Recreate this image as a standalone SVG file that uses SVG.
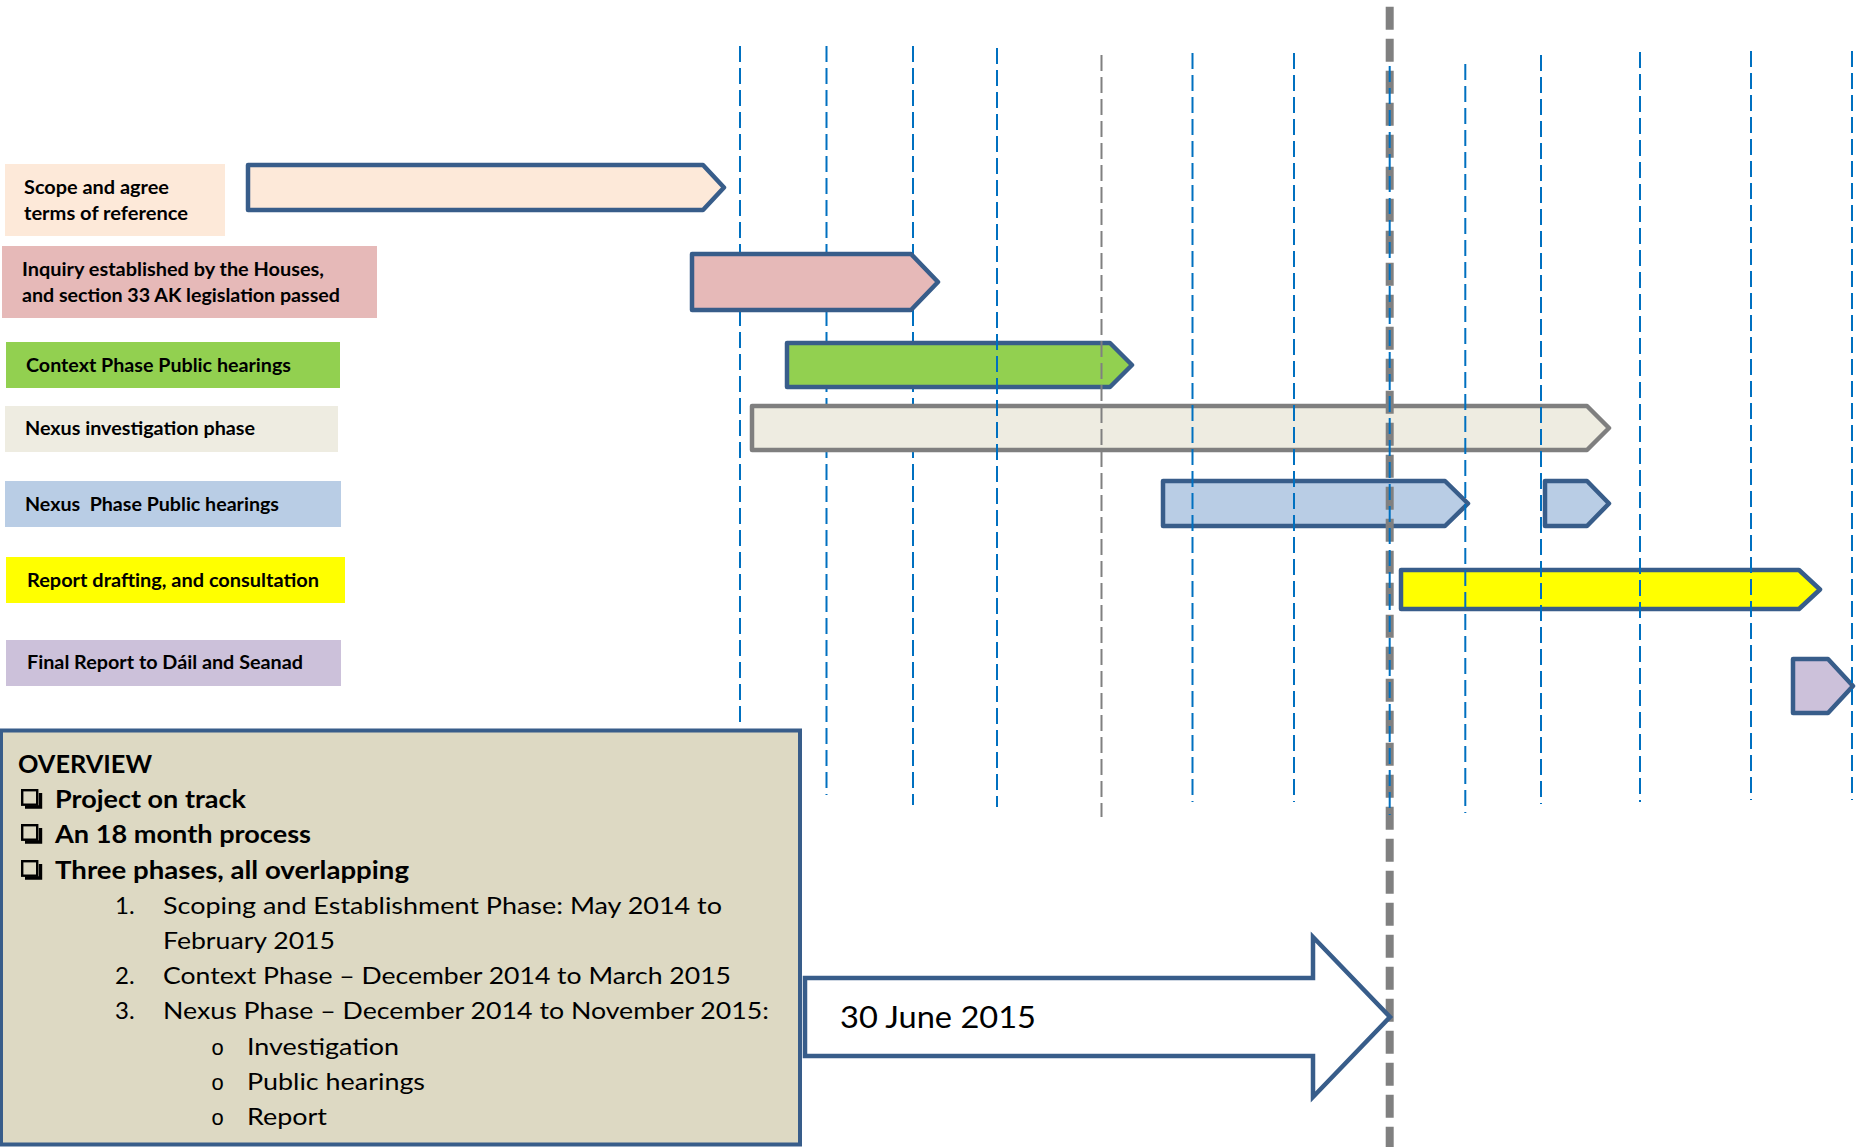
<svg xmlns="http://www.w3.org/2000/svg" width="1856" height="1147" viewBox="0 0 1856 1147">
<style>
.lbl{font-family:Lato,"Open Sans","Liberation Sans",sans-serif;font-weight:bold;font-size:19.5px;fill:#000}
.ov{font-family:Lato,"Open Sans","Liberation Sans",sans-serif;font-size:24px;fill:#000}
.ovb{font-family:Lato,"Open Sans","Liberation Sans",sans-serif;font-size:24px;font-weight:bold;fill:#000}
.mono{font-family:"Liberation Mono",monospace;font-size:22px;fill:#000}
.bar{stroke:#385D8A;stroke-width:4.5;stroke-linejoin:round}
.grid{stroke:#0070C0;stroke-width:2;stroke-dasharray:16 6;fill:none}
.gridg{stroke:#808080;stroke-width:2;stroke-dasharray:16 6;fill:none}
.chk{fill:none;stroke:#000;stroke-width:2.4}
.shd{fill:none;stroke:#000;stroke-width:3.4}
</style>
<rect width="1856" height="1147" fill="#fff"/>

<g id="label-scope"><rect x="5" y="164" width="220" height="72" fill="#FDE9D9"/>
<text class="lbl" x="24" y="194" textLength="145" lengthAdjust="spacingAndGlyphs">Scope and agree</text>
<text class="lbl" x="24" y="220" textLength="164" lengthAdjust="spacingAndGlyphs">terms of reference</text></g>
<g id="label-inquiry"><rect x="2" y="246" width="375" height="72" fill="#E6B9B8"/>
<text class="lbl" x="22" y="276" textLength="302" lengthAdjust="spacingAndGlyphs">Inquiry established by the Houses,</text>
<text class="lbl" x="22" y="302" textLength="318" lengthAdjust="spacingAndGlyphs">and section 33 AK legislation passed</text></g>
<g id="label-context"><rect x="6" y="342" width="334" height="46" fill="#92D050"/>
<text class="lbl" x="26" y="372" textLength="265" lengthAdjust="spacingAndGlyphs">Context Phase Public hearings</text></g>
<g id="label-nexus-inv"><rect x="5" y="406" width="333" height="46" fill="#EEECE1"/>
<text class="lbl" x="25" y="435" textLength="230" lengthAdjust="spacingAndGlyphs">Nexus investigation phase</text></g>
<g id="label-nexus-pub"><rect x="5" y="481" width="336" height="46" fill="#B9CDE5"/>
<text class="lbl" x="25" y="511" textLength="254" lengthAdjust="spacingAndGlyphs" style="white-space:pre">Nexus  Phase Public hearings</text></g>
<g id="label-report"><rect x="6" y="557" width="339" height="46" fill="#FFFF00"/>
<text class="lbl" x="27" y="587" textLength="292" lengthAdjust="spacingAndGlyphs">Report drafting, and consultation</text></g>
<g id="label-final"><rect x="6" y="640" width="335" height="46" fill="#CCC1DA"/>
<text class="lbl" x="27" y="669" textLength="276" lengthAdjust="spacingAndGlyphs">Final Report to Dáil and Seanad</text></g>

<g id="gridlines-back">
<line class="grid" x1="740" y1="46" x2="740" y2="728"/>
<line class="grid" x1="826.5" y1="46" x2="826.5" y2="795"/>
<line class="grid" x1="913" y1="46" x2="913" y2="805"/>
</g>

<g id="bar-scope"><polygon class="bar" fill="#FDE9D9" points="248,165 703,165 724,187.5 703,210 248,210"/></g>
<g id="bar-inquiry"><polygon class="bar" fill="#E6B9B8" points="692,254 911,254 938,282 911,310 692,310"/></g>
<g id="bar-context"><polygon class="bar" fill="#92D050" points="787,343 1110,343 1132,365 1110,387 787,387"/></g>
<g id="bar-nexus-inv"><polygon fill="#EEECE1" stroke="#7F7F7F" stroke-width="4.5" stroke-linejoin="round" points="752,406 1587,406 1609,428 1587,450 752,450"/></g>
<g id="bar-nexus-pub1"><polygon class="bar" fill="#B9CDE5" points="1163,481 1445,481 1468,503.5 1445,526 1163,526"/></g>
<g id="bar-nexus-pub2"><polygon class="bar" fill="#B9CDE5" points="1545,481 1587,481 1609,503.5 1587,526 1545,526"/></g>
<g id="bar-report"><polygon class="bar" fill="#FFFF00" points="1401,570 1799,570 1820,589.5 1799,609 1401,609"/></g>
<g id="bar-final"><polygon class="bar" fill="#CCC1DA" points="1793,659 1828,659 1853,686 1828,713 1793,713"/></g>

<g id="gridlines">
<line class="grid" x1="997" y1="48" x2="997" y2="807"/>
<line class="gridg" x1="1101.5" y1="55" x2="1101.5" y2="817"/>
<line class="grid" x1="1192.5" y1="53" x2="1192.5" y2="802"/>
<line class="grid" x1="1294" y1="53" x2="1294" y2="802"/>
<line x1="1389.7" y1="6.7" x2="1389.7" y2="1147" stroke="#808080" stroke-width="8" stroke-dasharray="23 9"/>
<line class="grid" x1="1389.7" y1="66" x2="1389.7" y2="815"/>
<line class="grid" x1="1465.3" y1="64" x2="1465.3" y2="813"/>
<line class="grid" x1="1541" y1="55" x2="1541" y2="804"/>
<line class="grid" x1="1640" y1="52" x2="1640" y2="802"/>
<line class="grid" x1="1751" y1="51" x2="1751" y2="800"/>
<line class="grid" x1="1852" y1="51" x2="1852" y2="800"/>
</g>

<g id="overview">
<rect x="1" y="730.5" width="799" height="414" fill="#DDD9C3" stroke="#385D8A" stroke-width="4"/>
<text class="ovb" x="18" y="773" textLength="134" lengthAdjust="spacingAndGlyphs">OVERVIEW</text>
<rect class="chk" x="22.2" y="790.2" width="15" height="14.5"/><polyline class="shd" points="40.5,793 40.5,807 25,807"/>
<text class="ovb" x="55" y="808" textLength="191" lengthAdjust="spacingAndGlyphs">Project on track</text>
<rect class="chk" x="22.2" y="825.2" width="15" height="14.5"/><polyline class="shd" points="40.5,828 40.5,842 25,842"/>
<text class="ovb" x="55" y="843" textLength="256" lengthAdjust="spacingAndGlyphs">An 18 month process</text>
<rect class="chk" x="22.2" y="861.2" width="15" height="14.5"/><polyline class="shd" points="40.5,864 40.5,878 25,878"/>
<text class="ovb" x="55" y="879" textLength="354" lengthAdjust="spacingAndGlyphs">Three phases, all overlapping</text>
<text class="ov" x="115" y="914">1.</text>
<text class="ov" x="163" y="914" textLength="559" lengthAdjust="spacingAndGlyphs">Scoping and Establishment Phase: May 2014 to</text>
<text class="ov" x="163" y="949" textLength="172" lengthAdjust="spacingAndGlyphs">February 2015</text>
<text class="ov" x="115" y="984">2.</text>
<text class="ov" x="163" y="984" textLength="568" lengthAdjust="spacingAndGlyphs">Context Phase – December 2014 to March 2015</text>
<text class="ov" x="115" y="1019">3.</text>
<text class="ov" x="163" y="1019" textLength="606" lengthAdjust="spacingAndGlyphs">Nexus Phase – December 2014 to November 2015:</text>
<text class="mono" x="211" y="1055">o</text>
<text class="ov" x="247" y="1055" textLength="152" lengthAdjust="spacingAndGlyphs">Investigation</text>
<text class="mono" x="211" y="1090">o</text>
<text class="ov" x="247" y="1090" textLength="178" lengthAdjust="spacingAndGlyphs">Public hearings</text>
<text class="mono" x="211" y="1125">o</text>
<text class="ov" x="247" y="1125" textLength="80" lengthAdjust="spacingAndGlyphs">Report</text>
</g>

<g id="milestone-arrow">
<polygon fill="#fff" stroke="#385D8A" stroke-width="4.5" points="805,978 1313,978 1313,937 1390,1017 1313,1097 1313,1056 805,1056"/>
<text x="840" y="1028" font-family="Lato,'Open Sans','Liberation Sans',sans-serif" font-size="30" textLength="196" lengthAdjust="spacingAndGlyphs">30 June 2015</text>
</g>
</svg>
